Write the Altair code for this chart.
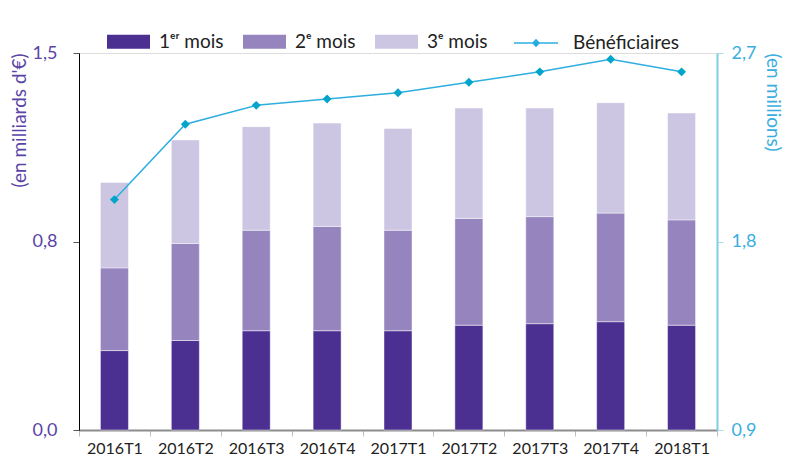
import altair as alt
import pandas as pd

periodes = ["2016T1", "2016T2", "2016T3", "2016T4", "2017T1", "2017T2", "2017T3", "2017T4", "2018T1"]
mois_labels = ["1ᵉʳ mois", "2ᵉ mois", "3ᵉ mois"]
mois1 = [0.316, 0.356, 0.395, 0.395, 0.395, 0.417, 0.423, 0.431, 0.417]
mois2 = [0.329, 0.386, 0.400, 0.415, 0.400, 0.425, 0.426, 0.432, 0.419]
mois3 = [0.340, 0.412, 0.412, 0.411, 0.405, 0.439, 0.432, 0.439, 0.425]
beneficiaires = [2.00, 2.36, 2.45, 2.48, 2.51, 2.56, 2.61, 2.67, 2.61]
ticks_gauche = [0.0, 0.75, 1.5]
ticks_droite = [0.9, 1.8, 2.7]
serie_ligne = "Bénéficiaires"

couleurs_mois = ["#4b2f91", "#9684be", "#cdc6e3"]
bleu_ligne = "#2eaee0"
bleu_point = "#00a5c9"

rows = []
for i, p in enumerate(periodes):
    for rang, (lab, vals) in enumerate(zip(mois_labels, [mois1, mois2, mois3])):
        rows.append({"periode": p, "mois": lab, "rang": rang, "valeur": vals[i]})
df_bars = pd.DataFrame(rows)
df_line = pd.DataFrame({"periode": periodes, "benef": beneficiaires, "serie": serie_ligne})

FONT = "Lato"

x_enc = alt.X(
    "periode:N",
    sort=periodes,
    scale=alt.Scale(paddingInner=0, paddingOuter=0),
    axis=alt.Axis(
        title=None, labelAngle=0, tickBand="extent", domainColor="#8c8c8c", domainWidth=2,
        tickColor="#c0c0c0", tickSize=6, labelFontSize=16, labelColor="#222222",
        labelPadding=4, labelFont=FONT,
    ),
)

bars = alt.Chart(df_bars).mark_bar(size=28, stroke="#ffffff", strokeWidth=1, strokeOpacity=0.45).encode(
    x=x_enc,
    y=alt.Y(
        "valeur:Q",
        stack="zero",
        scale=alt.Scale(domain=[0, 1.5], nice=False, zero=True),
        axis=alt.Axis(
            values=ticks_gauche,
            labelExpr="replace(format(datum.value, '.1f'), '.', ',')",
            title="(en milliards d'€)", titleColor="#5a44a6",
            titleFontSize=19, titleFontWeight="normal", titleFont=FONT,
            titleX=-60, titleY=0, titleAngle=-90, titleAlign="right", titleBaseline="middle",
            labelColor="#5a44a6", labelFontSize=18, labelFont=FONT, labelPadding=16,
            domainColor="#000000", domainWidth=1, tickColor="#555555", tickSize=6,
            grid=False,
        ),
    ),
    fill=alt.Fill(
        "mois:N",
        scale=alt.Scale(domain=mois_labels, range=couleurs_mois),
        legend=alt.Legend(
            title=None, orient="none", legendX=28, legendY=-33, direction="horizontal",
            symbolType="M-1,-0.33H1V0.33H-1Z", symbolSize=1849, symbolStrokeWidth=0,
            labelFontSize=19, labelFont=FONT, labelColor="#222222", labelOffset=9,
            columnPadding=19,
        ),
    ),
    order=alt.Order("rang:Q", sort="ascending"),
)

y_line = alt.Y(
    "benef:Q",
    scale=alt.Scale(domain=[0.9, 2.7], nice=False, zero=False),
    axis=alt.Axis(
        orient="right", values=ticks_droite,
        labelExpr="replace(format(datum.value, '.1f'), '.', ',')",
        title="(en millions)", titleColor="#3aaee0",
        titleFontSize=19, titleFontWeight="normal", titleFont=FONT,
        titleX=55, titleY=0, titleAngle=90, titleAlign="left", titleBaseline="middle",
        labelColor="#3aaee0", labelFontSize=18, labelFont=FONT, labelPadding=8,
        domainColor="#7fcfe2", domainWidth=2, tickColor="#a8dcea", tickSize=6,
        grid=False,
    ),
)

line = alt.Chart(df_line).mark_line(strokeWidth=1.5).encode(
    x=x_enc,
    y=y_line,
    stroke=alt.Stroke(
        "serie:N",
        scale=alt.Scale(domain=[serie_ligne], range=[bleu_ligne]),
        legend=alt.Legend(
            title=None, orient="none", legendX=434, legendY=-33,
            symbolType="M-1,0H1M-0.14,0L0,-0.14L0.14,0L0,0.14Z", symbolSize=1936,
            symbolStrokeWidth=1.5, symbolFillColor=bleu_point,
            labelFontSize=19, labelFont=FONT, labelColor="#222222", labelOffset=14,
        ),
    ),
)

points = alt.Chart(df_line).mark_point(shape="diamond", filled=True, size=80, color=bleu_point, opacity=1).encode(
    x=x_enc,
    y=y_line,
)

chart = alt.layer(bars, alt.layer(line, points)).resolve_scale(y="independent", fill="independent").properties(
    width=638,
    height=377,
    autosize=alt.AutoSizeParams(type="none"),
    padding={"left": 71, "top": 45, "right": 67, "bottom": 29},
).configure_view(stroke=None).configure(font=FONT)

chart.save("out.html", embed_options={"renderer": "svg", "actions": False})
